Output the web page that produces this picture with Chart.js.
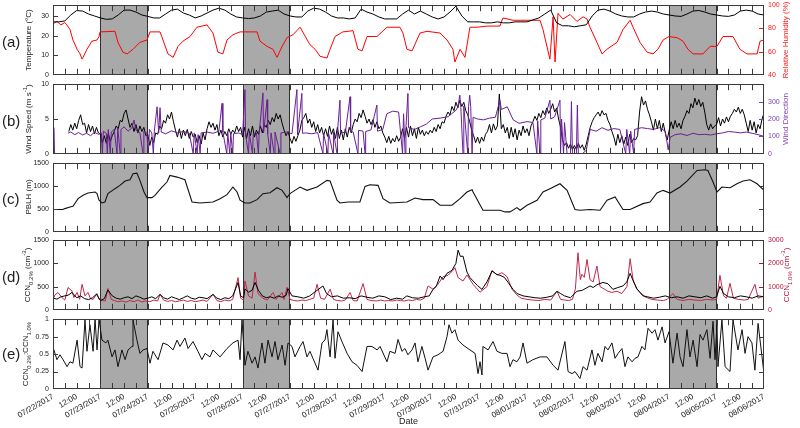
<!DOCTYPE html>
<html><head><meta charset="utf-8">
<script src="https://cdn.jsdelivr.net/npm/chart.js@4.4.0/dist/chart.umd.min.js"></script>
<style>
html,body{margin:0;padding:0;background:#fff;width:800px;height:428px;overflow:hidden;position:relative;font-family:"Liberation Sans",Arial,sans-serif;}
canvas{position:absolute;left:0;}
.plab{position:absolute;left:2px;font-size:15px;color:#222;transform:translateY(-50%);}
.yt{position:absolute;font-size:8px;white-space:nowrap;transform:translate(-50%,-50%) rotate(-90deg);line-height:1;color:#1a1a1a;}
.yt sub,.yt sup{font-size:6px;line-height:0;}
</style></head><body>
<canvas id="cA" width="800" height="86" style="top:-3px"></canvas>
<canvas id="cB" width="800" height="86" style="top:76px"></canvas>
<canvas id="cC" width="800" height="85" style="top:155px"></canvas>
<canvas id="cD" width="800" height="86" style="top:232px"></canvas>
<canvas id="cE" width="800" height="117" style="top:311px"></canvas>

<div class="plab" style="top:41px">(a)</div>
<div class="plab" style="top:120px">(b)</div>
<div class="plab" style="top:198px">(c)</div>
<div class="plab" style="top:276px">(d)</div>
<div class="plab" style="top:353px">(e)</div>

<div class="yt" style="left:29px;top:40px">Temperature (°C)</div>
<div class="yt" style="left:29px;top:119px">Wind Speed (m s<sup>-1</sup>)</div>
<div class="yt" style="left:29px;top:197px">PBLH (m)</div>
<div class="yt" style="left:28px;top:275px">CCN<sub>0.2%</sub> (cm<sup>-3</sup>)</div>
<div class="yt" style="left:26px;top:354px">CCN<sub>0.2%</sub>:CCN<sub>1.0%</sub></div>
<div class="yt" style="left:786px;top:40px;color:#ff1a1a">Relative Humidity (%)</div>
<div class="yt" style="left:786px;top:119px;color:#8040b0">Wind Direction</div>
<div class="yt" style="left:787px;top:275px;color:#b4143c">CCN<sub>1.0%</sub> (cm<sup>-3</sup>)</div>

<script>
// ---------------- DATA (time in hours since 07/22/2017 00:00) ----------------
const dateLabels = ['07/22/2017','07/23/2017','07/24/2017','07/25/2017','07/26/2017','07/27/2017','07/28/2017','07/29/2017','07/30/2017','07/31/2017','08/01/2017','08/02/2017','08/03/2017','08/04/2017','08/05/2017','08/06/2017'];
const midDayLabel = '12:00';
const shadedPeriods = [[24,48],[96,120],[312,336]];

const tempTicks = [0,10,20,30];
const rhTicks = [40,60,80,100];
const wsTicks = [0,5,10];
const wdTicks = [0,100,200,300];
const pblhTicks = [0,500,1000,1500];
const ccn02Ticks = [0,500,1000,1500];
const ccn10Ticks = [0,1000,2000,3000];
const ratioTicks = [0,0.25,0.5,0.75,1];

// temperature, every 3 h
const temperature = [
 27,27,27.5,30.5,32.8,32.5,31,30,
 29,28.3,28.5,30.5,33,33,32,30.5,
 29.8,29,29,31,33,33.5,31.5,30.5,
 29,30,31.5,33,34,33,31,29.5,
 29,28.7,29,30,32,32.5,33,31,
 30,29.5,29.5,32.5,34,33.5,32,30,
 29,29,28.5,29,33.5,32,31,29.5,
 28.5,28.5,28.5,31,33,31,32.5,31,
 29.5,28.5,29.5,32,35,30,27,27,
 27,26.5,26.5,27,26.5,26.5,27,27,
 27,28,29,31,33,26.5,25,25,
 24.5,25,25.5,30,33,33.5,32.5,31,
 30,29.5,29.5,31,32,32.5,32,31,
 30.5,30,29.8,31,32.5,32.8,32,31,
 30.5,30,29.8,30.5,32.5,33,32.5,31,
 30.5];

// relative humidity [hour, %]
const relHumidity = [[0,84],[2,86],[4,83],[6,85],[7,83],[8.6,79],[10.1,70],[12.2,62],[13.7,58],[14.7,53.5],[15.2,55],[17.2,62],[19.7,69],[22.3,70],[23.3,73],[23.8,77],[31.4,77.5],[32.9,68],[35.4,59.5],[37.5,58],[40.5,62],[44,68],[47.6,70],[49.1,77],[54.2,77],[55.7,70],[58.2,58],[60.8,55],[63.3,64.5],[65.8,69],[69.4,73],[72.9,81],[78,83],[81,76],[83.5,59.5],[86,58],[88.1,70],[91.1,74.5],[94.7,77],[103.3,77],[104.8,69],[108.4,64.5],[111.4,62],[113.4,55],[116,64.5],[118.5,72],[121.5,74.5],[125.1,81],[130.1,66],[132.7,62],[135.2,56],[138.7,54.4],[140.3,62],[142.8,73],[146.8,77],[151.9,78],[154.4,62],[156.5,60.6],[159,73],[164,73],[169.1,81],[175.7,81],[177.2,76],[179.2,62],[181.8,60.6],[185.8,76],[189.4,77.5],[196,76],[199.5,70],[202.5,62],[203.5,51],[206.1,62],[208.6,55],[211.1,81],[214.7,81],[219.7,82],[226.3,82],[227.8,89],[232.9,87],[240,87],[246.6,87],[248.1,79],[251.6,53.5],[253.2,90],[254.2,51],[255.7,93],[258.2,88],[261.8,92],[265.3,86],[268.4,90],[270.4,88],[271.9,81],[275.4,68],[278,58],[280.5,62],[285.6,68],[288.6,79],[292.2,87],[293.7,81],[297.2,68],[300.8,59.5],[303.8,58],[306.3,62],[308.9,70],[311.9,73],[316,72],[319,69],[321.5,62],[324.1,58],[329.1,58],[332.7,64.5],[336.2,64.5],[339.2,73],[344.3,73],[347.8,62],[351.4,58],[356.5,58],[358,69],[360,70]];

// wind speed, hourly (m/s)
const windSpeed = [
 null,null,null,null,null,null,null,null,3.2,4.2,3.4,4.4,3.6,4.8,5.6,4.2,4.4,3.0,4.2,3.2,4.0,2.9,3.8,3.0,
 2.8,1.6,2.6,1.5,2.9,1.8,2.6,3.2,4.0,3.6,4.8,4.6,5.8,6.3,5.0,3.8,4.4,3.2,4.2,3.0,4.0,3.2,3.8,2.6,
 2.8,1.2,2.4,1.6,3.0,2.8,4.0,3.6,4.8,4.4,5.6,5.0,6.0,4.6,3.4,2.4,3.6,2.2,3.4,2.6,3.5,2.2,3.2,2.4,
 2.8,1.6,2.6,1.4,3.0,2.0,3.6,4.6,3.8,4.4,3.4,4.2,2.6,3.4,2.4,3.2,2.6,3.6,2.8,3.4,3.0,4.0,3.2,3.8,
 2.4,3.8,2.2,3.6,2.6,4.0,2.4,3.4,2.8,4.0,3.0,4.2,3.8,4.8,4.2,5.2,4.6,5.8,5.0,5.6,4.4,3.4,2.6,3.2,
 2.2,1.5,2.5,1.8,2.6,3.4,4.8,5.2,5.8,4.4,5.0,3.8,4.6,3.2,4.2,3.0,3.8,2.6,3.6,2.5,4.0,2.8,3.6,2.2,
 3.8,2.2,3.4,2.0,3.6,2.4,3.8,3.0,4.2,5.0,4.6,5.8,5.2,6.3,5.4,4.4,5.0,4.2,4.9,3.8,4.6,3.6,4.0,3.0,
 2.4,1.6,2.5,1.5,2.2,1.7,2.6,1.8,2.4,3.6,2.2,3.8,2.4,4.0,2.6,3.6,2.2,3.8,2.8,3.4,2.6,3.2,2.8,3.4,
 3.0,3.8,3.2,4.2,3.6,4.6,4.4,5.4,6.0,5.6,6.8,6.2,7.4,6.6,7.7,6.8,7.4,6.2,5.6,4.6,3.4,2.6,1.6,2.4,
 1.5,2.4,1.8,2.8,3.2,4.2,3.0,4.3,3.4,4.0,8.6,3.6,4.2,3.0,3.8,2.2,3.8,2.4,3.6,2.0,3.4,2.6,4.0,3.0,
 3.6,2.6,4.0,4.6,5.4,4.8,5.8,5.2,6.2,5.6,6.6,5.8,6.4,7.2,6.0,6.6,5.0,3.8,2.0,1.2,1.6,0.8,1.4,0.6,
 1.2,0.6,1.5,0.8,1.3,0.5,1.4,2.6,3.8,4.6,5.2,5.6,6.0,5.4,6.2,5.6,5.8,4.8,4.2,3.2,2.4,1.2,2.8,1.6,
 2.6,1.4,2.4,1.2,2.8,1.6,2.2,2.0,2.6,6.0,8.2,7.0,7.6,6.4,5.6,4.6,3.4,5.0,3.6,4.8,3.2,4.4,3.0,2.0,
 3.4,4.6,3.6,4.8,3.8,4.4,3.6,4.8,5.4,6.2,5.8,7.2,6.6,8.0,7.0,7.8,6.8,7.4,6.0,4.2,3.4,4.3,3.6,4.0,
 4.2,5.2,4.0,5.0,4.4,5.3,4.6,5.4,5.8,6.4,6.0,6.7,5.8,6.4,5.6,4.4,3.2,4.8,3.4,4.6,3.0,4.2,3.6,5.0,
 5.8];

// wind direction [hour, degrees]
const windDirection = [[0,0],[0.4,150],[0.8,0],[1.2,null],[7.6,118],[9,126],[11,110],[13,122],[15,108],[17,118],[19,104],[21,124],[23,112],[24.5,120],[25,0],[25.5,130],[27,118],[27.5,0],[28,140],[29,0],[29.5,125],[31,140],[32.4,0],[32.8,150],[34,0],[34.4,140],[36,155],[38,130],[40,150],[41,194],[42,135],[44,120],[45.6,0],[46,130],[47.5,120],[48.3,0],[48.8,140],[50,120],[50.8,0],[51.3,130],[52.7,270],[53.5,120],[54.2,265],[54.8,125],[57,115],[60,132],[63,120],[66,128],[69,118],[71,0],[71.5,120],[73,0],[73.5,110],[74.5,0],[75,120],[78,125],[81,118],[84,130],[85.6,290],[86,125],[88,0],[88.5,120],[89.5,0],[90,118],[91,0],[91.4,115],[94,120],[96,110],[97.2,369],[97.5,110],[99,0],[99.4,120],[101,0],[101.4,115],[103,120],[104,0],[104.4,118],[106.3,350],[106.6,120],[108.4,311],[108.7,115],[110,0],[110.4,120],[112,0],[112.4,125],[115,0],[115.4,120],[118,125],[121,115],[123.5,369],[123.8,110],[126,347],[126.3,118],[128,120],[131,115],[134,122],[136.7,0],[137,118],[139.2,0],[139.5,120],[141.8,0],[142,125],[143.8,0],[144,120],[145.3,308],[145.6,125],[148,120],[150.4,328],[150.7,130],[152,125],[154.4,0],[154.7,135],[157,130],[158,0],[158.3,128],[161,137],[164,280],[164.3,130],[167,140],[169,230],[172,245],[175,240],[177,0],[177.5,230],[178.3,0],[178.7,150],[179.7,347],[180,150],[183,140],[186,155],[189,170],[192,200],[196,205],[200,213],[204,250],[205,270],[206,337],[206.5,265],[207.6,0],[208,275],[210,0],[210.4,270],[211,337],[211.5,270],[212.2,0],[212.7,210],[215,200],[218,195],[221,205],[224,210],[226.3,308],[227,255],[230,270],[233,195],[236,175],[240,185],[243,180],[245,0],[245.4,190],[246.6,0],[247,195],[249,205],[251.6,308],[252,200],[254,213],[256.7,308],[257,0],[257.5,200],[258.5,0],[259,180],[260.3,0],[262,0],[262.5,300],[263,0],[265,0],[265.5,280],[266,0],[268,0],[270,20],[272,140],[275,130],[278,150],[281,135],[284,145],[287,140],[290,0],[290.5,140],[292,0],[292.5,130],[294,0],[294.5,140],[298,150],[301,145],[304,140],[307,150],[310,130],[311.5,23],[312.5,95],[315,110],[318,115],[321,105],[324,118],[327,110],[330,112],[333,108],[336,115],[339,120],[342,128],[345,125],[348,120],[351,125],[354,118],[357,110],[360,100]];

// planetary boundary layer height [hour, m]
const pblh = [[0,486],[5,486],[6,507],[8.6,544],[10.1,558],[12.7,725],[15.2,797],[17.7,848],[21.3,870],[22.3,834],[23.3,690],[24.8,630],[26.3,652],[27.8,834],[31.4,943],[33.9,1015],[36.5,1109],[39,1138],[40.5,1269],[42.5,1283],[44,1124],[46.1,870],[47.6,747],[50.1,747],[51.6,797],[55.2,979],[57.7,1088],[59.2,1233],[62.8,1196],[66.8,1138],[70.4,652],[74.4,630],[81,652],[84.6,725],[88.1,812],[91.1,979],[93.2,870],[94.7,690],[97.2,630],[99.7,630],[103.3,703],[106.3,834],[109.9,855],[113.4,964],[116,906],[118.5,747],[120,834],[122.5,906],[125.1,979],[128.6,906],[133.7,979],[138.7,1124],[140.3,1109],[143.8,690],[145.3,630],[149.4,652],[155.4,652],[158,993],[160.5,1030],[164.6,1015],[167.1,725],[170.6,630],[179.2,652],[183.3,740],[187.3,703],[192.4,703],[196,580],[202,580],[206.1,725],[209.6,870],[212.2,921],[212.7,870],[217.7,471],[226.3,471],[228.9,435],[231.4,435],[234.9,529],[236.5,471],[240,580],[245.1,690],[248.1,870],[251.6,943],[256.7,1051],[260.3,906],[264.3,486],[266.8,471],[271.9,486],[277,471],[280.5,690],[284.6,761],[288.6,486],[292.2,486],[298.7,616],[302.3,652],[305.8,848],[308.9,906],[312.4,848],[317.5,979],[321,1109],[326.1,1341],[330.1,1356],[331.6,1341],[334.2,1088],[336.2,870],[338.7,979],[342.8,964],[346.3,1051],[349.4,1109],[352.9,1138],[356.5,1051],[360,906]];

// CCN at 0.2 % supersaturation [hour, cm-3]
const ccn02 = [[0,250],[2,230],[4,280],[6,300],[7.6,313],[9.6,373],[12,260],[14,300],[16,240],[18,220],[20,260],[22,336],[24,200],[26,240],[27.8,428],[30,300],[32,250],[34,230],[36,260],[38,280],[40,240],[42,300],[44,270],[46,230],[48,250],[50,280],[52,240],[54.2,330],[56,260],[58,230],[60,280],[62,250],[64,220],[66,260],[68,300],[70,250],[72,230],[74,270],[76,260],[78,240],[81,330],[83,250],[85,220],[87,260],[89,240],[91,300],[93.7,587],[95,300],[96.5,260],[97.2,450],[99,380],[100.8,420],[102.3,590],[104,420],[106,300],[108,260],[110,280],[112,250],[114,300],[116,270],[118,310],[119,457],[121,300],[124,280],[127,250],[130,300],[133.7,420],[136.7,514],[138.5,350],[141,280],[144,300],[147,250],[150,260],[153,240],[156,300],[159,270],[162,250],[165,300],[168,280],[171,220],[174,250],[177,230],[179.2,300],[182,260],[185,250],[188,280],[190.5,300],[192.4,440],[194,500],[196,728],[197.5,650],[199.5,786],[202,850],[204,1000],[205.1,1285],[206.3,1150],[207.6,1157],[209.6,814],[211,700],[212.7,621],[215,520],[217.2,440],[219.7,600],[222.3,835],[224.8,760],[226.3,743],[228.5,700],[230.4,593],[232.9,440],[235,350],[238,300],[241,280],[244,260],[247,250],[250,270],[253,300],[255.2,400],[257,350],[259,300],[262,260],[265.3,400],[268,420],[271.9,514],[273.5,480],[275.4,540],[278.5,590],[281,560],[283.5,440],[286,480],[288.6,514],[290.5,600],[292.2,786],[294,600],[295.7,450],[298.7,300],[301,280],[304,250],[307,270],[310,300],[313,260],[316,280],[319,250],[322,300],[325,280],[328,260],[331,300],[334,250],[336,280],[337.7,507],[339.5,350],[342,280],[345,260],[348,300],[351,280],[354,250],[357,300],[360,280]];

// CCN at 1.0 % supersaturation [hour, cm-3]
const ccn10 = [[0,450],[1,643],[2.5,746],[4.5,531],[6,420],[7.6,960],[9.6,814],[10.6,531],[12.2,746],[13.5,450],[14.7,1100],[16.2,600],[17.7,746],[19,480],[20.3,450],[22.3,700],[23.3,450],[25,400],[26.5,380],[27.8,917],[29.5,450],[31,400],[33,350],[35,380],[37,330],[39,400],[41,350],[43,420],[45,340],[47,380],[49,350],[51,420],[53,380],[54.2,670],[56,420],[58,360],[60,400],[62,350],[64,380],[66,420],[68,360],[70,400],[72,350],[74,380],[76,420],[78,360],[81,670],[83,400],[85,350],[87,420],[89,380],[91,450],[93.7,1389],[95,500],[96.5,420],[97.2,1243],[99,600],[100.8,500],[102.3,1630],[103.8,700],[106.3,500],[108.5,420],[111.4,746],[113,450],[116,746],[117,450],[118.5,970],[120,450],[122,400],[124,380],[126,420],[128,400],[130,450],[132,500],[133.7,1100],[135.5,500],[137.5,450],[140.3,887],[142,450],[144,400],[146,380],[148,420],[150.4,746],[152,400],[154,380],[157,1130],[159,450],[161,400],[164,380],[166,420],[168,380],[170,400],[172,380],[174,420],[176,400],[178,380],[180,420],[182,400],[184,450],[186,420],[188,500],[189.9,1030],[192.4,887],[194.9,1100],[197.5,1430],[200,1486],[202.5,1700],[203.5,1817],[205.1,1390],[207.6,1240],[209.6,1500],[212.7,1100],[216.2,760],[219.7,1000],[222.3,1700],[224.8,1500],[227.3,1600],[229.9,1430],[232.4,890],[234.9,640],[237,500],[240,450],[243,420],[246,400],[249,450],[252,420],[255.2,800],[257,450],[259,420],[261,400],[263,450],[264.5,900],[265.8,2460],[267,1300],[267.8,1530],[269,1400],[270.4,2170],[271.9,1300],[273.5,1200],[275.4,1886],[277,1000],[279,900],[281,800],[283,750],[285.6,800],[288,700],[290.6,1000],[292.2,2203],[293.7,1300],[295.5,900],[297.2,750],[300,550],[303,450],[306,420],[309,400],[311,450],[313.9,700],[316,450],[319,400],[322,450],[325,420],[328,400],[331,450],[334,420],[336,450],[337.7,1486],[339.5,600],[341,500],[342.8,1143],[344.5,500],[347,450],[350,420],[352,450],[355.4,1100],[357,500],[360,600]];

// CCN0.2% : CCN1.0% ratio [hour, ratio]
const ccnRatio = [[0,0.6],[2,0.42],[3.5,0.49],[5.1,0.42],[7.1,0.32],[8.6,0.39],[10.1,0.37],[12.2,0.70],[13.7,0.32],[14.7,0.30],[16.2,0.99],[17.2,0.54],[18.7,0.92],[20.3,0.54],[21.3,1.0],[22.3,0.56],[23.3,1.0],[24.8,0.70],[26.8,0.66],[27.8,0.70],[29.9,0.46],[31.4,0.56],[32.9,0.32],[34.9,0.56],[36.5,0.42],[38,0.56],[40,0.61],[40.5,0.99],[42.5,0.70],[44,0.51],[45.6,0.56],[47.6,0.58],[49.1,0.37],[50.6,0.54],[53.2,0.42],[55.7,0.66],[58.2,0.63],[60.8,0.56],[62.8,0.70],[64.3,0.61],[66.8,0.73],[68.4,0.58],[70.9,0.68],[73.4,0.54],[75.4,0.42],[77,0.51],[79.5,0.46],[81,0.56],[84.6,0.46],[88.1,0.58],[91.1,0.66],[93.7,0.70],[94.7,0.42],[95.7,0.99],[97.2,0.34],[98.7,0.54],[100.8,0.37],[102.3,0.46],[103.8,0.30],[105.8,0.66],[107.3,0.37],[108.9,0.70],[110.9,0.46],[112.4,0.68],[113.9,0.42],[116,0.63],[117.5,0.34],[119,0.66],[121,0.61],[122.5,0.46],[125.1,0.61],[126.6,0.68],[128.6,0.46],[130.1,0.54],[131.6,0.44],[134.2,0.27],[136.2,0.66],[137.7,0.70],[138.7,0.85],[140.3,0.46],[141.8,0.99],[142.8,0.44],[144.3,0.82],[146.3,0.68],[148.9,0.51],[151.4,0.39],[153.9,0.34],[156.5,0.25],[159,0.61],[161.5,0.61],[164.1,0.56],[165.6,0.61],[169.1,0.39],[170.6,0.54],[173.2,0.51],[174.7,0.71],[176.7,0.54],[178.2,0.58],[179.7,0.49],[181.8,0.56],[183.3,0.66],[184.8,0.39],[186.8,0.61],[188.4,0.44],[189.9,0.27],[192.4,0.46],[194.9,0.49],[197.5,0.54],[199.5,0.75],[200.5,0.92],[202,0.80],[203.5,0.85],[205.1,0.70],[207.6,0.63],[211.1,0.56],[213.7,0.51],[215.2,0.22],[216.2,0.39],[217.2,0.20],[217.7,0.61],[220.3,0.56],[222.8,0.68],[224.8,0.54],[227.3,0.51],[229.9,0.51],[231.4,0.32],[232.9,0.42],[234.9,0.39],[236.5,0.46],[238,0.66],[240,0.37],[243,0.42],[246.6,0.46],[250.1,0.46],[253.2,0.34],[255.7,0.27],[259.2,0.68],[260.8,0.25],[262.8,0.22],[264.3,0.25],[266.8,0.15],[268.4,0.32],[270.4,0.27],[272.9,0.56],[274.4,0.34],[275.9,0.51],[278,0.39],[279.5,0.61],[281,0.56],[283,0.66],[284.6,0.44],[286.1,0.51],[288.1,0.58],[289.6,0.32],[291.1,0.46],[293.2,0.39],[294.7,0.44],[296.2,0.46],[298.2,0.61],[299.7,0.56],[301.3,0.87],[303.3,0.80],[304.8,0.85],[306.3,0.70],[308.4,0.89],[309.9,0.66],[311.9,0.82],[313.9,0.37],[316,0.80],[317.5,0.46],[319,0.32],[321,0.85],[322.5,0.46],[324.1,0.70],[326.1,0.32],[327.6,0.78],[329.1,0.70],[331.1,0.85],[332.7,0.44],[334.2,0.97],[335.2,0.42],[336.2,0.92],[336.7,0.32],[338.7,0.99],[340.3,0.32],[342.8,0.25],[344.3,0.99],[346.8,0.56],[348.9,0.85],[350.4,0.51],[351.9,0.75],[353.9,0.66],[355.4,0.27],[357,0.94],[359,0.46],[360,0.22]];

// ---------------- RENDERING ----------------
const FONT = '"Liberation Sans", Arial, sans-serif';
const X_TICK_STEP = 6;
const pairsToPts = p => p.map(([x, y]) => ({x, y}));
const seriesToPts = (v, step) => v.map((y, i) => ({x: i * step, y}));

const panelDeco = {
  id: 'panelDeco',
  beforeDatasetsDraw(chart) {
    const {ctx, chartArea: ca} = chart; const xs = chart.scales.x;
    ctx.save();
    shadedPeriods.forEach(([a, b]) => {
      const x1 = Math.round(xs.getPixelForValue(a)), x2 = Math.round(xs.getPixelForValue(b));
      ctx.fillStyle = '#a9a9a9';
      ctx.fillRect(x1, ca.top, x2 - x1, ca.bottom - ca.top);
      ctx.strokeStyle = '#2e2e2e'; ctx.lineWidth = 1;
      ctx.beginPath();
      ctx.moveTo(x1 + 0.5, ca.top); ctx.lineTo(x1 + 0.5, ca.bottom);
      ctx.moveTo(x2 - 0.5, ca.top); ctx.lineTo(x2 - 0.5, ca.bottom);
      ctx.stroke();
    });
    ctx.restore();
  },
  afterDatasetsDraw(chart, args, opts) {
    const {ctx, chartArea: ca} = chart; const xs = chart.scales.x;
    ctx.save();
    ctx.lineWidth = 1; ctx.strokeStyle = '#3a3a3a';
    ctx.beginPath();
    for (let h = X_TICK_STEP; h < 360; h += X_TICK_STEP) {
      const px = Math.round(xs.getPixelForValue(h)) + 0.5;
      ctx.moveTo(px, ca.top); ctx.lineTo(px, ca.top + 6);
      ctx.moveTo(px, ca.bottom); ctx.lineTo(px, ca.bottom - 6);
    }
    ctx.stroke();
    Object.values(chart.scales).forEach(s => {
      if (s.axis !== 'y') return;
      const sides = opts.mirror ? ['left', 'right'] : [s.position];
      ctx.strokeStyle = s.position === 'right' ? s.options.ticks.color : '#3a3a3a';
      ctx.beginPath();
      s.ticks.forEach(t => {
        if (t.value <= s.min || t.value >= s.max) return;
        const py = Math.round(s.getPixelForValue(t.value)) + 0.5;
        sides.forEach(side => {
          if (side === 'left') { ctx.moveTo(ca.left, py); ctx.lineTo(ca.left + 5, py); }
          else { ctx.moveTo(ca.right, py); ctx.lineTo(ca.right - 5, py); }
        });
      });
      ctx.stroke();
    });
    ctx.strokeStyle = '#3a3a3a';
    const l = Math.round(ca.left), t = Math.round(ca.top), r = Math.round(ca.right), b = Math.round(ca.bottom);
    ctx.strokeRect(l + 0.5, t + 0.5, r - l - 1, b - t - 1);
    ctx.restore();
  }
};

function yAxis(pos, min, max, tickVals, color) {
  return {
    type: 'linear', position: pos, min, max,
    grid: {display: false, drawTicks: false}, border: {display: false},
    ticks: {color, font: {size: 7, family: FONT}, padding: 4, callback: v => String(v)},
    afterBuildTicks: s => { s.ticks = tickVals.map(v => ({value: v})); },
    afterFit: s => { s.width = pos === 'left' ? 53 : 36; }
  };
}

function xAxis(show) {
  const ax = {
    type: 'linear', min: 0, max: 360, display: show,
    grid: {display: false, drawTicks: false}, border: {display: false},
    ticks: {
      stepSize: X_TICK_STEP, autoSkip: false, minRotation: 30, maxRotation: 30, padding: 3,
      color: '#222', font: {size: 8, family: FONT},
      callback: v => v % 24 === 0 ? dateLabels[v / 24] : (v % 12 === 0 ? midDayLabel : '')
    },
    title: {display: show, text: 'Date', color: '#222', font: {size: 9, family: FONT}, padding: {top: 0, bottom: 1}}
  };
  if (show) ax.afterFit = s => { s.height = 39; };
  return ax;
}

function line(points, color, axis, width) {
  return {data: points, borderColor: color, borderWidth: width || 1, pointRadius: 0, fill: false,
          tension: 0, yAxisID: axis, spanGaps: false};
}

function panel(id, datasets, yLeft, yRight, showX) {
  const scales = {x: xAxis(showX), y: yLeft};
  if (yRight) scales.y2 = yRight;
  new Chart(document.getElementById(id), {
    type: 'line',
    data: {datasets},
    options: {
      responsive: false, animation: false, devicePixelRatio: 1,
      layout: {padding: {top: 8, bottom: showX ? 0 : 8, left: 0, right: yRight ? 0 : 36}},
      plugins: {legend: {display: false}, tooltip: {enabled: false}, panelDeco: {mirror: !yRight}},
      scales
    },
    plugins: [panelDeco]
  });
}

panel('cA', [
  line(seriesToPts(temperature, 3), '#000000', 'y', 1),
  line(pairsToPts(relHumidity), '#ff0000', 'y2', 1)
], yAxis('left', 0, 35.5, tempTicks, '#222'), yAxis('right', 40, 100, rhTicks, '#ff1a1a'), false);

panel('cB', [
  line(pairsToPts(windDirection), '#6a1f96', 'y2', 1),
  line(seriesToPts(windSpeed, 1), '#000000', 'y', 1)
], yAxis('left', 0, 10, wsTicks, '#222'), yAxis('right', 0, 400, wdTicks, '#8040b0'), false);

panel('cC', [
  line(pairsToPts(pblh), '#111111', 'y', 1.1)
], yAxis('left', 0, 1500, pblhTicks, '#222'), null, false);

panel('cD', [
  line(pairsToPts(ccn02), '#000000', 'y', 1),
  line(pairsToPts(ccn10), '#c0284a', 'y2', 1)
], yAxis('left', 0, 1500, ccn02Ticks, '#222'), yAxis('right', 0, 3000, ccn10Ticks, '#b4143c'), false);

panel('cE', [
  line(pairsToPts(ccnRatio), '#111111', 'y', 1)
], yAxis('left', 0, 1, ratioTicks, '#222'), null, true);
</script>
</body></html>
